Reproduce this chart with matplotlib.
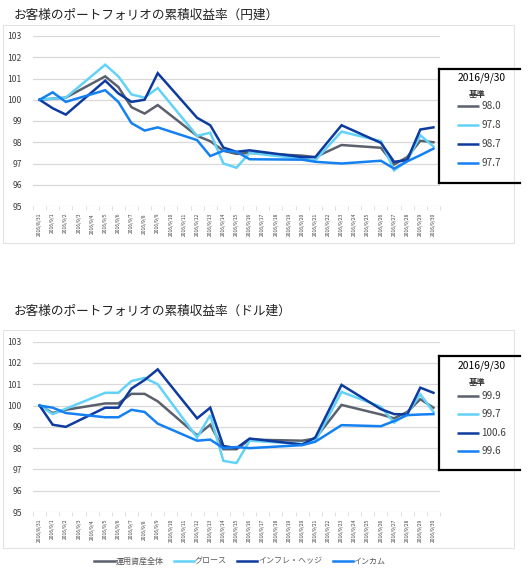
import numpy as np
import matplotlib
matplotlib.use("Agg")
import matplotlib.pyplot as plt
from matplotlib.lines import Line2D
from matplotlib.patches import Rectangle

plt.rcParams['font.family'] = ['Noto Sans CJK JP', 'DejaVu Sans']

# Data
dates = ['2016/8/31'] + [f'2016/9/{d}' for d in range(1, 31)]
series_names = ['運用資産全体', 'グロース', 'インフレ・ヘッジ', 'インカム']
colors = ['#5a606c', '#62d2f8', '#0d3b9f', '#1580f2']
N = None

# 円建 (yen basis)
yen_total = [100, 100.05, 100.1, N, N, 101.1, 100.6, 99.65, 99.35, 99.75, N, N, 98.3, 98.05, 97.6, 97.45,
             97.5, N, N, N, 97.37, 97.3, N, 97.87, N, N, 97.74, 96.95, 97.3, 98.07, 98.0]
yen_growth = [100, 100.05, 100.1, N, N, 101.65, 101.1, 100.25, 100.1, 100.55, N, N, 98.3, 98.45, 97.0, 96.8,
              97.5, N, N, N, 97.22, 97.15, N, 98.5, N, N, 98.05, 96.68, 97.12, 98.33, 97.8]
yen_inflation = [100, 99.6, 99.3, N, N, 100.9, 100.3, 99.9, 100.0, 101.25, N, N, 99.15, 98.8, 97.75, 97.55,
                 97.62, N, N, N, 97.3, 97.3, N, 98.8, N, N, 97.97, 97.08, 97.16, 98.6, 98.7]
yen_income = [100, 100.35, 99.9, N, N, 100.45, 99.9, 98.9, 98.55, 98.7, N, N, 98.1, 97.35, 97.6, 97.55,
              97.2, N, N, N, 97.18, 97.08, N, 97.0, N, N, 97.13, 96.76, 97.1, 97.39, 97.7]

# ドル建 (dollar basis)
usd_total = [100, 99.65, 99.8, N, N, 100.1, 100.1, 100.55, 100.55, 100.2, N, N, 98.6, 99.1, 97.95, 97.95,
             98.4, N, N, N, 98.35, 98.45, N, 100.03, N, N, 99.58, 99.4, 99.7, 100.3, 99.9]
usd_growth = [100, 99.6, 99.85, N, N, 100.6, 100.6, 101.15, 101.3, 101.0, N, N, 98.5, 99.55, 97.4, 97.3,
              98.35, N, N, N, 98.2, 98.33, N, 100.64, N, N, 99.94, 99.2, 99.62, 100.53, 99.7]
usd_inflation = [100, 99.1, 99.0, N, N, 99.9, 99.9, 100.8, 101.2, 101.7, N, N, 99.4, 99.9, 98.1, 98.0,
                 98.45, N, N, N, 98.17, 98.5, N, 100.97, N, N, 99.83, 99.6, 99.58, 100.84, 100.6]
usd_income = [100, 99.9, 99.65, N, N, 99.45, 99.45, 99.8, 99.7, 99.15, N, N, 98.35, 98.4, 98.0, 98.05,
              98.0, N, N, N, 98.14, 98.3, N, 99.08, N, N, 99.03, 99.27, 99.55, 99.58, 99.6]

charts = [
    ('お客様のポートフォリオの累積収益率（円建）', [yen_total, yen_growth, yen_inflation, yen_income]),
    ('お客様のポートフォリオの累積収益率（ドル建）', [usd_total, usd_growth, usd_inflation, usd_income]),
]

W, H = 532, 572
fig = plt.figure(figsize=(W / 100, H / 100), dpi=100)


def fx(px):
    return px / W


def fy(py):
    return 1 - py / H


# pixel layout per chart
layouts = [
    dict(frame=(3, 25, 514, 243), title=15, top=36, bottom=206, box=(69, 183),
         date_y=78, kijun_y=94, rows=[106, 125, 144, 163]),
    dict(frame=(3, 330, 514, 548), title=311, top=341.7, bottom=512, box=(356, 470),
         date_y=366, kijun_y=382, rows=[396, 414, 433, 451]),
]

x = np.arange(len(dates))
handles = []
for (title, data), lay in zip(charts, layouts):
    x0, y0, x1, y1 = lay['frame']
    fig.patches.append(Rectangle((fx(x0), fy(y1)), fx(x1 - x0), (y1 - y0) / H,
                                 transform=fig.transFigure, fill=False,
                                 edgecolor='#e3e3e3', linewidth=0.8))
    fig.text(fx(14), fy(lay['title']), title, fontsize=9.1, va='center', ha='left', color='#222222')

    ax = fig.add_axes([fx(33), fy(lay['bottom']), fx(440 - 33), (lay['bottom'] - lay['top']) / H])
    handles = []
    for vals, c, name in zip(data, colors, series_names):
        v = np.array([np.nan if a is None else a for a in vals], dtype=float)
        m = ~np.isnan(v)
        h, = ax.plot(x[m], v[m], color=c, linewidth=1.8, label=name, solid_joinstyle='miter')
        handles.append(h)
    ax.set_xlim(-0.5, len(dates) - 0.5)
    ax.set_ylim(95, 103)
    ax.set_yticks(range(95, 104))
    ax.yaxis.grid(True, color='#d9d9d9', linewidth=0.9)
    ax.set_axisbelow(True)
    for s in ax.spines.values():
        s.set_visible(False)
    ax.tick_params(axis='y', length=0, labelsize=6.2, labelcolor='#404040', pad=8)
    ax.set_xticks(x)
    ax.set_xticklabels(dates, rotation=90, fontsize=3.6, color='#404040')
    ax.set_xticks(np.arange(-0.5, len(dates), 1), minor=True)
    ax.tick_params(axis='x', which='major', length=0, pad=5)
    ax.tick_params(axis='x', which='minor', length=3, color='#d9d9d9')

    # side box with last values
    bt, bb = lay['box']
    for seg in [((439, bt), (520, bt)), ((439, bb), (520, bb)), ((439, bt), (439, bb))]:
        fig.add_artist(Line2D([fx(seg[0][0]), fx(seg[1][0])], [fy(seg[0][1]), fy(seg[1][1])],
                              transform=fig.transFigure, color='black', linewidth=1.6))
    fig.text(fx(482), fy(lay['date_y']), dates[-1], fontsize=7.4, ha='center', va='center',
             color='black')
    fig.text(fx(477), fy(lay['kijun_y']), '基準', fontsize=6.0, ha='center', va='center',
             color='#333333', fontweight='bold')
    for vals, c, ry in zip(data, colors, lay['rows']):
        fig.add_artist(Line2D([fx(457), fx(479)], [fy(ry), fy(ry)], transform=fig.transFigure,
                              color=c, linewidth=1.8, solid_capstyle='butt'))
        fig.text(fx(481.5), fy(ry), f'{vals[-1]:.1f}', fontsize=7.2, ha='left', va='center',
                 color='#404040')

fig.legend(handles, series_names, loc='center', bbox_to_anchor=(fx(240), fy(561)), ncol=4,
           frameon=False, fontsize=5.8, handlelength=2.5, handletextpad=0.1, columnspacing=1.3,
           labelcolor='#595959')

fig.savefig('out.png', dpi=100, facecolor='white')
